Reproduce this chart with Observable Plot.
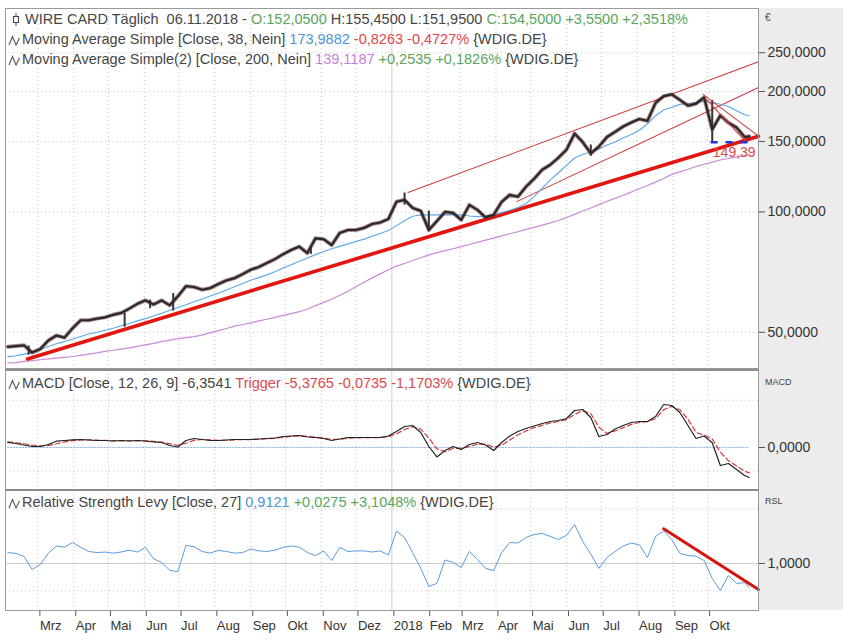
<!DOCTYPE html>
<html><head><meta charset="utf-8">
<script src="https://cdn.jsdelivr.net/npm/d3@7"></script>
<script src="https://cdn.jsdelivr.net/npm/@observablehq/plot@0.6"></script>
<style>
html,body{margin:0;padding:0;background:#fff;}
#wrap{position:relative;width:850px;height:642px;overflow:hidden;background:#fff;font-family:"Liberation Sans",Arial,sans-serif;}
.strip{position:absolute;left:758px;top:8px;width:85px;height:602px;background:#ececec;}
.sep{position:absolute;left:5px;width:754px;height:2px;background:#8c8c8c;z-index:3;}
.hdr{position:absolute;font-size:14.5px;color:#454545;white-space:nowrap;line-height:16px;z-index:5;}
.hdr svg{vertical-align:-2px;margin-right:1px;}
.g{color:#5aa55e}.r{color:#e0474c}.b{color:#4f94d8}.p{color:#c57fd8}
.small{position:absolute;left:765px;font-size:9px;color:#444;z-index:5;}
</style></head><body><div id="wrap">
<div class="strip"></div>
</div>
<script>
// ---------- data ----------
const dates = ["2017-02-03","2017-02-10","2017-02-17","2017-02-24","2017-03-03","2017-03-10","2017-03-17","2017-03-24","2017-03-31","2017-04-07",
"2017-04-14","2017-04-21","2017-04-28","2017-05-05","2017-05-12","2017-05-19","2017-05-26","2017-06-02","2017-06-09","2017-06-16",
"2017-06-23","2017-06-30","2017-07-07","2017-07-14","2017-07-21","2017-07-28","2017-08-04","2017-08-11","2017-08-18","2017-08-25",
"2017-09-01","2017-09-08","2017-09-15","2017-09-22","2017-09-29","2017-10-06","2017-10-13","2017-10-20","2017-10-27","2017-11-03",
"2017-11-10","2017-11-17","2017-11-24","2017-12-01","2017-12-08","2017-12-15","2017-12-22","2017-12-29","2018-01-05","2018-01-12",
"2018-01-19","2018-01-26","2018-02-02","2018-02-09","2018-02-16","2018-02-23","2018-03-02","2018-03-09","2018-03-16","2018-03-23",
"2018-03-30","2018-04-06","2018-04-13","2018-04-20","2018-04-27","2018-05-04","2018-05-11","2018-05-18","2018-05-25","2018-06-01",
"2018-06-08","2018-06-15","2018-06-22","2018-06-29","2018-07-06","2018-07-13","2018-07-20","2018-07-27","2018-08-03","2018-08-10",
"2018-08-17","2018-08-24","2018-08-31","2018-09-07","2018-09-14","2018-09-21","2018-09-28","2018-10-05","2018-10-12","2018-10-19",
"2018-10-26","2018-11-02","2018-11-06"];
const close = [46.0,46.2,46.4,44.5,45.4,47.7,49.1,48.5,51.2,53.6,
53.6,54.1,54.5,55.3,55.9,57.3,58.9,60.1,58.7,60.1,
58.4,61.5,65.2,64.9,63.9,64.5,66.0,67.4,68.3,69.9,
71.7,72.8,74.5,76.2,78.4,80.3,81.9,78.9,85.9,85.5,
82.6,88.6,90.1,90.1,91.2,93.3,94.1,96.0,106.0,107.2,
102.3,100.6,90.1,94.9,100.0,99.4,95.5,104.1,101.2,96.9,
98.3,106.0,110.3,109.1,115.6,121.0,127.5,131.2,136.6,143.1,
157.0,149.5,140.0,145.6,153.9,158.5,163.5,167.3,170.7,168.9,
187.3,194.7,196.7,190.6,184.3,186.5,193.3,160.7,174.3,167.1,
162.6,153.9,154.5];
const sma38 = [43.4,43.7,44.1,44.6,45.3,46.1,46.8,47.4,48.1,48.8,
49.5,50.0,50.6,51.2,51.9,52.6,53.4,54.1,54.9,55.8,
56.8,57.7,58.6,59.6,60.6,61.6,62.6,63.8,65.0,66.2,
67.5,68.5,69.6,70.9,72.4,73.8,75.3,76.7,78.2,79.6,
80.9,82.0,83.2,84.3,85.5,86.9,88.3,89.8,92.4,95.0,
97.5,98.3,98.3,98.3,98.3,98.3,98.3,97.7,97.3,97.7,
98.3,99.7,101.0,102.6,104.9,109.2,114.5,120.3,125.3,130.7,
136.4,139.1,141.2,143.7,147.0,149.6,153.0,156.2,160.0,166.1,
174.0,179.8,182.7,185.7,186.7,187.7,189.1,187.8,185.8,183.5,
179.1,174.9,174.0];
const sma200 = [41.9,42.0,42.3,42.5,42.7,42.9,43.1,43.3,43.5,43.8,
44.1,44.4,44.8,45.1,45.4,45.7,46.1,46.5,46.9,47.4,
47.8,48.2,48.5,48.8,49.2,49.9,50.5,51.1,51.8,52.3,
52.8,53.4,53.9,54.5,55.1,55.7,56.3,57.2,58.3,59.4,
60.5,61.9,63.3,65.0,66.7,68.4,70.0,71.7,73.2,74.3,
75.6,76.8,78.1,79.1,80.0,80.9,81.9,82.9,83.9,85.0,
86.0,87.1,88.2,89.2,90.4,91.5,92.7,93.9,95.2,96.8,
98.6,100.5,102.3,104.3,106.3,108.1,110.1,112.1,114.3,116.4,
118.7,121.2,124.1,125.9,127.8,130.0,131.6,133.2,134.8,136.0,
137.1,138.3,139.1];
const macd = [1.10,0.85,0.53,0.21,0.21,0.64,1.33,1.48,1.63,1.69,
1.59,1.48,1.48,1.38,1.48,1.38,1.48,1.38,1.17,1.06,
0.42,0.11,1.48,1.91,1.69,1.48,1.48,1.59,1.69,1.69,
1.69,1.80,1.91,2.01,2.33,2.44,2.54,2.22,2.12,1.91,
1.48,1.80,2.12,2.12,2.12,2.12,2.12,2.44,3.39,4.45,
4.66,3.18,0.21,-2.01,-0.64,0.21,-0.42,0.64,1.06,0.53,
-0.64,1.06,2.44,3.39,4.03,4.56,5.08,5.51,5.72,6.14,
7.84,8.05,6.36,2.33,2.75,3.92,4.66,5.30,5.51,5.51,
6.57,9.11,8.90,7.42,4.66,1.91,2.44,1.00,-3.81,-3.39,
-4.66,-5.93,-6.35];
const trigger = [1.2,1.0,0.8,0.5,0.35,0.4,0.8,1.2,1.45,1.6,
1.62,1.55,1.5,1.45,1.45,1.42,1.45,1.42,1.3,1.15,
0.8,0.45,0.9,1.5,1.7,1.6,1.52,1.55,1.62,1.67,
1.68,1.75,1.85,1.95,2.15,2.35,2.48,2.35,2.2,2.0,
1.7,1.75,1.95,2.05,2.1,2.1,2.1,2.3,2.9,3.8,
4.4,3.9,2.0,-0.3,-0.9,-0.2,-0.2,0.2,0.7,0.7,
0.1,0.5,1.6,2.7,3.5,4.2,4.7,5.2,5.5,5.9,
7.0,7.8,7.2,4.3,3.0,3.5,4.2,4.9,5.3,5.45,
6.1,8.0,8.7,8.0,6.0,3.2,2.6,1.8,-1.0,-2.8,
-3.9,-5.0,-5.38];
const rsl = [1.040,1.037,1.026,0.978,0.996,1.037,1.064,1.060,1.077,1.059,
1.044,1.040,1.042,1.038,1.042,1.049,1.042,1.059,1.017,1.004,
0.975,0.970,1.066,1.062,1.044,1.038,1.048,1.044,1.038,1.040,
1.053,1.046,1.044,1.049,1.059,1.064,1.060,1.040,1.029,1.046,
1.011,1.059,1.044,1.046,1.046,1.042,1.046,1.031,1.119,1.095,
1.040,0.982,0.916,0.927,1.013,1.004,0.985,1.044,1.015,0.982,
0.974,1.040,1.077,1.075,1.095,1.106,1.110,1.099,1.088,1.103,
1.143,1.081,1.035,0.982,1.022,1.044,1.064,1.075,1.068,1.022,
1.099,1.119,1.088,1.037,1.029,1.027,1.011,0.945,0.901,0.956,
0.927,0.930,0.912];
// intraweek spikes
const spikeDates = ["2017-02-21","2017-05-15","2017-06-06","2017-06-26","2017-10-23","2018-01-12","2018-02-02","2018-06-22","2018-10-05"];
const spikeLow   = [43.8,51.5,57.3,56.5,78.3,104.0,89.2,137.7,149.4];
const spikeHigh  = [46.2,55.8,60.2,62.5,81.5,111.5,100.5,147.0,190.0];
// trend lines
const supportDates = ["2017-02-20","2018-11-14"], supportValues = [42.9,154.5];
const upperChDates = ["2018-01-15","2018-11-14"], upperChValues = [111.8,237.3];
const lowerChDates = ["2018-04-19","2018-11-14"], lowerChValues = [106.1,204.8];
const wedgeTopDates = ["2018-09-27","2018-11-14"], wedgeTopValues = [196.7,154.7];
const wedgeBotDates = ["2018-09-30","2018-11-03"], wedgeBotValues = [191.1,149.9];
const supportLevel = 149.39, supportLevelDates = ["2018-10-04","2018-11-08"], supportLabelDate = "2018-10-24";
const rslTrendDates = ["2018-08-24","2018-11-14"], rslTrendValues = [1.127,0.905];
// ticks
const priceTicks = [50,100,150,200,250];
const macdTicks = [0], macdGrid = [10,-5];
const rslTicks = [1], rslGrid = [1.2,0.9];
const monthTicks = ["2017-03-01","2017-04-01","2017-05-01","2017-06-01","2017-07-01","2017-08-01","2017-09-01","2017-10-01","2017-11-01","2017-12-01",
"2018-01-01","2018-02-01","2018-03-01","2018-04-01","2018-05-01","2018-06-01","2018-07-01","2018-08-01","2018-09-01","2018-10-01"];
const monthLabels = ["Mrz","Apr","Mai","Jun","Jul","Aug","Sep","Okt","Nov","Dez","2018","Feb","Mrz","Apr","Mai","Jun","Jul","Aug","Sep","Okt"];

// ---------- build ----------
const wrap = document.getElementById("wrap");
const de = d3.formatLocale({decimal:",", thousands:".", grouping:[3], currency:["","€"]});
const fmt4 = de.format(".4f"), fmt2 = de.format(".2f");
const D = s => new Date(s);
const xScale = {type:"utc", domain:[D("2017-02-01"), D("2018-11-14")], axis:null};
const rows = dates.map((d,i)=>({date:D(d), close:close[i], sma38:sma38[i], sma200:sma200[i], macd:macd[i], trigger:trigger[i], rsl:rsl[i]}));
const seg = (ds, vs) => ds.map((d,i)=>({date:D(d), v:vs[i]}));
const spikes = spikeDates.map((d,i)=>({date:D(d), lo:spikeLow[i], hi:spikeHigh[i]}));
const gridDates = monthTicks.filter(d=>d!=="2018-01-01").map(D);
const yearLine = [D("2018-01-01")];
const labelMap = new Map(monthTicks.map((d,i)=>[+D(d), monthLabels[i]]));
const font = '"Liberation Sans", Arial, sans-serif';
const base = {width:850, marginLeft:5, marginRight:92, marginTop:0,
  style:{background:"transparent", fontFamily:font, fontSize:"14px", color:"#333", overflow:"visible"}};
const dotted = {stroke:"#c4c4c4", strokeDasharray:"1,3"};
function place(svg, top){ svg.style.position="absolute"; svg.style.left="0px"; svg.style.top=top+"px"; wrap.appendChild(svg); }

// price panel
const price = Plot.plot({...base, height:360, marginBottom:0, x:xScale,
  y:{type:"log", domain:[40.6,322.5]},
  marks:[
    Plot.ruleY(priceTicks, dotted),
    Plot.ruleX(gridDates, dotted),
    Plot.ruleX(yearLine, {stroke:"#cfcfcf"}),
    Plot.line(rows, {x:"date", y:"sma200", stroke:"#c98ad8", strokeWidth:1.2}),
    Plot.line(seg(supportDates, supportValues), {x:"date", y:"v", stroke:"#e3150f", strokeWidth:3.6}),
    Plot.line(seg(upperChDates, upperChValues), {x:"date", y:"v", stroke:"#cf3a3a", strokeWidth:1.1}),
    Plot.line(seg(lowerChDates, lowerChValues), {x:"date", y:"v", stroke:"#cf3a3a", strokeWidth:1.1}),
    Plot.line(rows, {x:"date", y:"sma38", stroke:"#5ba7e8", strokeWidth:1.1}),
    Plot.ruleX(spikes, {x:"date", y1:"lo", y2:"hi", stroke:"#333", strokeWidth:2}),
    Plot.line(rows, {x:"date", y:"close", stroke:"#6e2e2e", strokeWidth:4, strokeOpacity:0.55}),
    Plot.line(rows, {x:"date", y:"close", stroke:"#2a2a2a", strokeWidth:2.2}),
    Plot.line(seg(wedgeTopDates, wedgeTopValues), {x:"date", y:"v", stroke:"#cf3a3a", strokeWidth:1.1}),
    Plot.line(seg(wedgeBotDates, wedgeBotValues), {x:"date", y:"v", stroke:"#cf3a3a", strokeWidth:1.1}),
    Plot.ruleY([supportLevel], {x1:()=>D(supportLevelDates[0]), x2:()=>D(supportLevelDates[1]), stroke:"#2035d8", strokeWidth:2.6, strokeDasharray:"7,8"}),
    Plot.text([supportLevel], {x:()=>D(supportLabelDate), y:d=>d, text:d=>fmt2(d), dy:10, fill:"#e04a4a", fontSize:14, fontFamily:font}),
    Plot.axisY({anchor:"right", ticks:priceTicks, tickFormat:fmt4, tickSize:6, tickPadding:3, stroke:"#555", fill:"#333", fontSize:14}),
    Plot.frame({stroke:"#9a9a9a"})
  ]});
place(price, 8);

// MACD panel
const macdPlot = Plot.plot({...base, height:120, marginBottom:0, x:xScale,
  y:{domain:[-9.11,16.31]},
  marks:[
    Plot.ruleY(macdGrid, dotted),
    Plot.ruleX(gridDates, dotted),
    Plot.ruleX(yearLine, {stroke:"#cfcfcf"}),
    Plot.ruleY(macdTicks, {x1:()=>D(dates[0]), x2:()=>D(dates[dates.length-1]), stroke:"#8fb2e2", strokeWidth:1.2, strokeDasharray:"2,1"}),
    Plot.line(rows, {x:"date", y:"trigger", stroke:"#d23a3a", strokeWidth:1.2, strokeDasharray:"5,3"}),
    Plot.line(rows, {x:"date", y:"macd", stroke:"#222", strokeWidth:1.2}),
    Plot.axisY({anchor:"right", ticks:macdTicks, tickFormat:fmt4, tickSize:6, tickPadding:3, stroke:"#555", fill:"#333", fontSize:14}),
    Plot.frame({stroke:"#9a9a9a"})
  ]});
place(macdPlot, 370);

// RSL panel
const rslPlot = Plot.plot({...base, height:152, marginBottom:32, x:xScale,
  y:{domain:[0.8278,1.2674]},
  marks:[
    Plot.ruleY(rslGrid, dotted),
    Plot.ruleX(gridDates, dotted),
    Plot.ruleX(yearLine, {stroke:"#cfcfcf"}),
    Plot.ruleY(rslTicks, {stroke:"#cdcdcd"}),
    Plot.line(rows, {x:"date", y:"rsl", stroke:"#5b9be0", strokeWidth:1}),
    Plot.line(seg(rslTrendDates, rslTrendValues), {x:"date", y:"v", stroke:"#d4140f", strokeWidth:3}),
    Plot.axisY({anchor:"right", ticks:rslTicks, tickFormat:fmt4, tickSize:6, tickPadding:3, stroke:"#555", fill:"#333", fontSize:14}),
    Plot.axisX({anchor:"bottom", ticks:monthTicks.map(D), tickFormat:d=>labelMap.get(+d), tickSize:6, tickPadding:4, textAnchor:"start", dx:2, stroke:"#555", fill:"#333", fontSize:13}),
    Plot.frame({stroke:"#9a9a9a"})
  ]});
place(rslPlot, 490);

// separators & headers
const zig = c => `<svg width="13" height="11" viewBox="0 0 13 11"><path d="M1 10 L4.5 1.5 L8 10 L11.5 3" fill="none" stroke="${c}" stroke-width="1.1"/></svg>`;
const candle = `<svg width="8" height="13" viewBox="0 0 8 13"><path d="M4 0V13" stroke="#444" stroke-width="1"/><rect x="1.5" y="3.5" width="5" height="6" fill="#fff" stroke="#444" stroke-width="1"/></svg>`;
const html = `
<div class="sep" style="top:369px"></div>
<div class="sep" style="top:489px"></div>
<div class="hdr" style="left:12px;top:11px">${candle} WIRE CARD Täglich&nbsp; 06.11.2018 - <span class="g">O:152,0500</span> H:155,4500 L:151,9500 <span class="g">C:154,5000 +3,5500 +2,3518%</span></div>
<div class="hdr" style="left:8px;top:31px">${zig("#555")}Moving Average Simple [Close, 38, Nein] <span class="b">173,9882</span> <span class="r">-0,8263 -0,4727%</span> {WDIG.DE}</div>
<div class="hdr" style="left:8px;top:51px">${zig("#555")}Moving Average Simple(2) [Close, 200, Nein] <span class="p">139,1187</span> <span class="g">+0,2535 +0,1826%</span> {WDIG.DE}</div>
<div class="hdr" style="left:8px;top:375px">${zig("#555")}MACD [Close, 12, 26, 9] -6,3541 <span class="r">Trigger -5,3765 -0,0735 -1,1703%</span> {WDIG.DE}</div>
<div class="hdr" style="left:8px;top:494px">${zig("#555")}Relative Strength Levy [Close, 27] <span class="b">0,9121</span> <span class="g">+0,0275 +3,1048%</span> {WDIG.DE}</div>
<div class="small" style="top:12px;font-size:10px">€</div>
<div class="small" style="top:377px">MACD</div>
<div class="small" style="top:496px">RSL</div>`;
wrap.insertAdjacentHTML("beforeend", html);
</script></body></html>
